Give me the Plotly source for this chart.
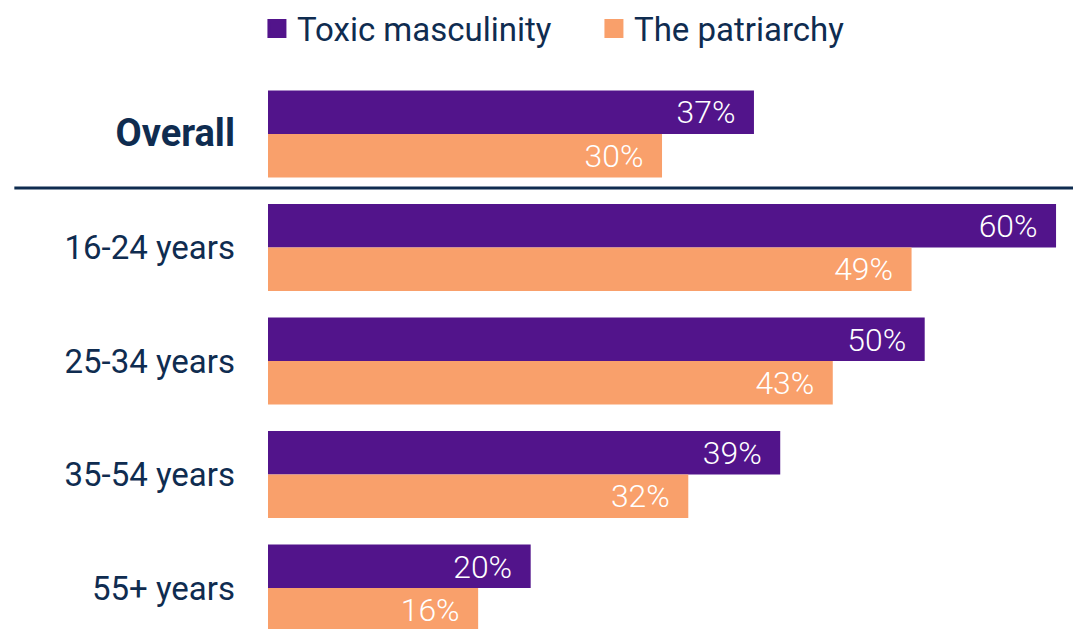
import plotly.graph_objects as go

categories = ["Overall", "16-24 years", "25-34 years", "35-54 years", "55+ years"]
tick_labels = ["<b><span style='font-size:38px'>Overall</span></b>", "16-24 years", "25-34 years", "35-54 years", "55+ years"]
toxic_masculinity = [37, 60, 50, 39, 20]
the_patriarchy = [30, 49, 43, 32, 16]
series_names = ["Toxic masculinity", "The patriarchy"]

PURPLE = "#52148b"
ORANGE = "#f9a06b"
NAVY = "#0f2c50"
FONT = "Roboto, Liberation Sans, sans-serif"
PAD = "\u00a0\u00a0"

fig = go.Figure()
for name, vals, col in [(series_names[0], toxic_masculinity, PURPLE),
                        (series_names[1], the_patriarchy, ORANGE)]:
    fig.add_trace(go.Bar(
        y=categories, x=vals, orientation="h", name=name,
        marker=dict(color=col, line=dict(width=0)),
        text=[f"{v}%{PAD}" for v in vals], textposition="inside",
        insidetextanchor="end", textangle=0,
        textfont=dict(color="white", size=34, family=FONT, weight=300),
        showlegend=False,
    ))
    fig.add_trace(go.Scatter(
        x=[None], y=[None], mode="markers", name=name,
        marker=dict(symbol="square", size=16, color=col,
                    line=dict(color=col, width=3)),
        showlegend=True,
    ))

fig.add_shape(type="line", xref="paper", yref="y", x0=-0.312, x1=1.0,
              y0=0.475, y1=0.475, line=dict(color=NAVY, width=3))

fig.update_layout(
    width=1073, height=621,
    margin=dict(l=260, r=0, t=0, b=0, autoexpand=False),
    paper_bgcolor="white", plot_bgcolor="white",
    barmode="group", bargap=0.234, bargroupgap=0,
    font=dict(family=FONT, color=NAVY),
    xaxis=dict(range=[0, 61.9], visible=False, fixedrange=True, automargin=False),
    yaxis=dict(type="category", categoryorder="array", categoryarray=categories,
               tickvals=categories, ticktext=tick_labels, automargin=False,
               range=[4.361, -1.110], showgrid=False, zeroline=False,
               showline=False, ticks="", ticklabelstandoff=32,
               tickfont=dict(size=33, color=NAVY, family=FONT)),
    legend=dict(orientation="h", xref="container", yref="paper",
                x=0.232, xanchor="left", y=1.012, yanchor="top",
                font=dict(size=33, color=NAVY, family=FONT),
                entrywidth=292, entrywidthmode="pixels",
                itemsizing="trace", bgcolor="rgba(0,0,0,0)"),
)

fig.write_html("out.html")
